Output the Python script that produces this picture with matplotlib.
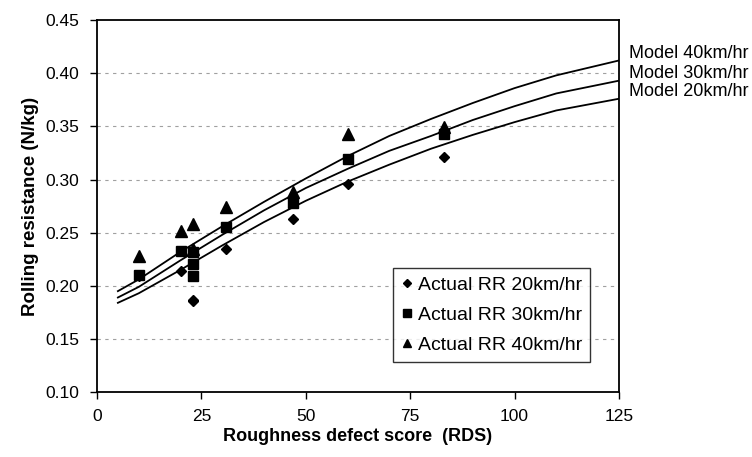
import matplotlib

matplotlib.use("Agg")
import matplotlib.pyplot as plt

plt.rcParams["font.family"] = ["Liberation Sans", "DejaVu Sans"]

# measured rolling resistance (N/kg) vs roughness defect score
rds_20 = [10, 20, 23, 23, 31, 47, 60, 83]
rr_20 = [0.209, 0.214, 0.186, 0.187, 0.235, 0.263, 0.296, 0.321]
rds_30 = [10, 20, 23, 23, 23, 31, 47, 60, 83]
rr_30 = [0.210, 0.233, 0.232, 0.221, 0.209, 0.255, 0.278, 0.319, 0.343]
rds_40 = [10, 20, 23, 23, 31, 47, 60, 83]
rr_40 = [0.228, 0.252, 0.258, 0.235, 0.274, 0.288, 0.343, 0.349]

# model curves
model_x = [5, 10, 20, 30, 40, 50, 60, 70, 80, 90, 100, 110, 125]
model_40 = [0.195, 0.206, 0.232, 0.256, 0.279, 0.301, 0.322, 0.341, 0.357, 0.372, 0.386, 0.398, 0.412]
model_30 = [0.189, 0.199, 0.224, 0.248, 0.271, 0.292, 0.310, 0.327, 0.341, 0.356, 0.369, 0.381, 0.393]
model_20 = [0.184, 0.193, 0.215, 0.238, 0.260, 0.280, 0.298, 0.314, 0.329, 0.342, 0.354, 0.365, 0.376]

x_ticks = [0, 25, 50, 75, 100, 125]
y_ticks = [0.10, 0.15, 0.20, 0.25, 0.30, 0.35, 0.40, 0.45]

fig = plt.figure(figsize=(7.52, 4.57), dpi=100)
ax = fig.add_axes([0.129, 0.142, 0.694, 0.814])

for y in y_ticks[1:-1]:
    ax.axhline(y, color="#a0a0a0", lw=0.8, dashes=(3, 4), zorder=0)

for label, ys in [("Model 40km/hr", model_40), ("Model 30km/hr", model_30), ("Model 20km/hr", model_20)]:
    ax.plot(model_x, ys, color="black", lw=1.3, zorder=2)
    ax.annotate(label, xy=(model_x[-1], ys[-1]), xytext=(7, 5), textcoords="offset points",
                va="center", ha="left", fontsize=13, annotation_clip=False)

ax.plot(rds_20, rr_20, "D", color="black", ms=5.5, label="Actual RR 20km/hr", zorder=3)
ax.plot(rds_30, rr_30, "s", color="black", ms=7, label="Actual RR 30km/hr", zorder=3)
ax.plot(rds_40, rr_40, "^", color="black", ms=8, label="Actual RR 40km/hr", zorder=3)

ax.set_xlim(0, 125)
ax.set_ylim(0.10, 0.45)
ax.set_xticks(x_ticks)
ax.set_yticks(y_ticks)
ax.set_yticklabels([f"{v:.2f}" for v in y_ticks])
ax.tick_params(labelsize=12.5, length=5, width=1, direction="out")
ax.tick_params(axis="x", pad=7)
ax.tick_params(axis="y", pad=8)
for sp in ax.spines.values():
    sp.set_linewidth(1.3)

ax.set_xlabel("Roughness defect score  (RDS)", fontsize=13, fontweight="bold", labelpad=3)
ax.set_ylabel("Rolling resistance (N/kg)", fontsize=13.5, fontweight="bold", labelpad=4)

leg = ax.legend(loc="lower right", bbox_to_anchor=(0.944, 0.081), fontsize=14,
                frameon=True, fancybox=False, edgecolor="black", handlelength=0.6,
                handletextpad=0.25, borderpad=0.4, labelspacing=0.65, markerscale=0.75,
                borderaxespad=0)
leg.get_frame().set_linewidth(1.0)

fig.savefig("out.png", dpi=100)
plt.close(fig)
